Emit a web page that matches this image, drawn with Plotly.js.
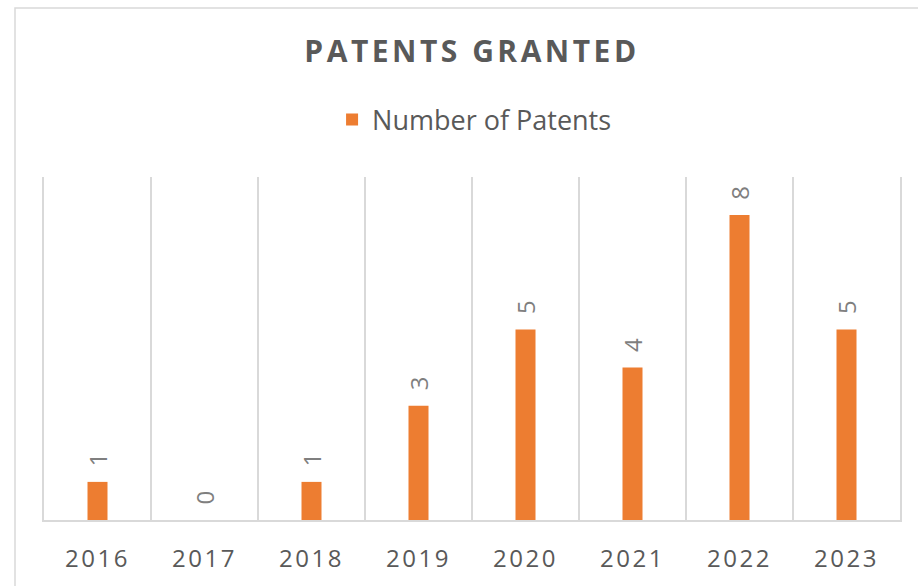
<!DOCTYPE html>
<html>
<head>
<meta charset="utf-8">
<script src="https://cdn.plot.ly/plotly-3.0.1.min.js"></script>
<style>
html, body { margin: 0; padding: 0; background: #fff; }
#chart { width: 918px; height: 586px; }
.gtitle { letter-spacing: 3.5px; }
.xtick text { letter-spacing: 2.5px; }
</style>
</head>
<body>
<div id="chart"></div>
<script>
const years = ["2016", "2017", "2018", "2019", "2020", "2021", "2022", "2023"];
const patents = [1, 0, 1, 3, 5, 4, 8, 5];
const seriesName = "Number of Patents";
const chartTitle = "PATENTS GRANTED";

const trace = {
  type: "bar",
  x: years,
  y: patents,
  name: seriesName,
  marker: { color: "#ED7D31" },
  texttemplate: "\u00a0\u00a0%{y}",
  textposition: "outside",
  constraintext: "none",
  textangle: -90,
  textfont: { family: "Open Sans", size: 24, color: "#7F7F7F" },
  cliponaxis: false,
  hoverinfo: "x+y"
};

const layout = {
  width: 918,
  height: 586,
  margin: { l: 44, r: 18, t: 177, b: 66 },
  paper_bgcolor: "#ffffff",
  plot_bgcolor: "#ffffff",
  bargap: 0.813,
  showlegend: true,
  title: {
    text: "<b>" + chartTitle + "</b>",
    font: { family: "Open Sans", size: 30, color: "#595959" },
    x: 0.5, xref: "paper", xanchor: "center",
    y: 1 - 51 / 586, yref: "container", yanchor: "middle"
  },
  legend: {
    orientation: "h",
    x: 0.503, xanchor: "center",
    y: 1.166, yanchor: "middle",
    font: { family: "Open Sans", size: 27, color: "#595959" },
    itemwidth: 30
  },
  xaxis: {
    type: "category",
    tickson: "boundaries",
    showgrid: true,
    gridcolor: "#D9D9D9",
    gridwidth: 2,
    showline: true,
    linecolor: "#D9D9D9",
    linewidth: 2,
    ticks: "",
    tickfont: { family: "Open Sans", size: 24, color: "#595959" },
    ticklabelstandoff: 16,
    fixedrange: true
  },
  yaxis: {
    range: [0, 9],
    showgrid: false,
    zeroline: false,
    showticklabels: false,
    showline: true,
    mirror: true,
    linecolor: "#D9D9D9",
    linewidth: 2,
    ticks: "",
    fixedrange: true
  },
  shapes: [{
    type: "rect",
    xref: "paper", yref: "paper",
    x0: (15 - 44) / 856, x1: 1.2,
    y0: -0.5, y1: (520 - 8) / 343,
    line: { color: "#D9D9D9", width: 1.5 },
    fillcolor: "rgba(0,0,0,0)",
    layer: "below"
  }]
};

Plotly.newPlot("chart", [trace], layout, { displayModeBar: false, staticPlot: true });
</script>
</body>
</html>
